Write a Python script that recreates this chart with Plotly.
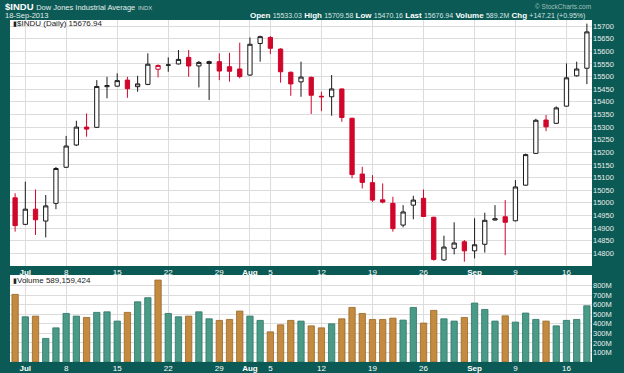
import plotly.graph_objects as go

# ---------------- data ----------------
dates = [
    "2013-06-28", "2013-07-01", "2013-07-02", "2013-07-03", "2013-07-05",
    "2013-07-08", "2013-07-09", "2013-07-10", "2013-07-11", "2013-07-12",
    "2013-07-15", "2013-07-16", "2013-07-17", "2013-07-18", "2013-07-19",
    "2013-07-22", "2013-07-23", "2013-07-24", "2013-07-25", "2013-07-26",
    "2013-07-29", "2013-07-30", "2013-07-31", "2013-08-01", "2013-08-02",
    "2013-08-05", "2013-08-06", "2013-08-07", "2013-08-08", "2013-08-09",
    "2013-08-12", "2013-08-13", "2013-08-14", "2013-08-15", "2013-08-16",
    "2013-08-19", "2013-08-20", "2013-08-21", "2013-08-22", "2013-08-23",
    "2013-08-26", "2013-08-27", "2013-08-28", "2013-08-29", "2013-08-30",
    "2013-09-03", "2013-09-04", "2013-09-05", "2013-09-06", "2013-09-09",
    "2013-09-10", "2013-09-11", "2013-09-12", "2013-09-13", "2013-09-16",
    "2013-09-17", "2013-09-18",
]

opens = [
    15020, 14915, 14975, 14928, 14998, 15141, 15229, 15300, 15299, 15460,
    15462, 15486, 15460, 15469, 15529, 15545, 15550, 15576, 15542, 15552,
    15559, 15539, 15530, 15506, 15631, 15655, 15609, 15517, 15479, 15497,
    15422, 15420, 15451, 15335, 15114, 15080, 15012, 14998, 14912, 14991,
    15018, 14943, 14774, 14820, 14846, 14810, 14836, 14932, 14945, 14929,
    15070, 15196, 15328, 15315, 15383, 15503, 15533.03,
]
highs = [
    15038, 15084, 15053, 15031, 15142, 15265, 15325, 15354, 15486, 15499,
    15513, 15499, 15503, 15592, 15548, 15576, 15605, 15605, 15562, 15563,
    15592, 15594, 15634, 15655, 15662, 15660, 15612, 15520, 15559, 15500,
    15440, 15506, 15453, 15337, 15143, 15110, 15077, 15024, 14991, 15028,
    15053, 14945, 14870, 14923, 14853, 14939, 14961, 14991, 15011, 15090,
    15195, 15333, 15348, 15382, 15552, 15559, 15709.58,
]
lows = [
    14886, 14912, 14873, 14863, 14975, 15138, 15225, 15262, 15297, 15414,
    15460, 15416, 15440, 15466, 15497, 15519, 15548, 15499, 15457, 15407,
    15486, 15480, 15493, 15503, 15559, 15589, 15476, 15424, 15420, 15352,
    15363, 15345, 15321, 15097, 15057, 15004, 14998, 14886, 14903, 14935,
    14944, 14771, 14770, 14796, 14767, 14780, 14803, 14930, 14793, 14927,
    15068, 15194, 15284, 15312, 15381, 15500, 15470.16,
]
closes = [
    14910, 14975, 14933, 14988, 15136, 15225, 15300, 15292, 15461, 15464,
    15484, 15452, 15471, 15549, 15544, 15546, 15568, 15542, 15556, 15559,
    15522, 15521, 15500, 15628, 15658, 15612, 15519, 15471, 15498, 15426,
    15420, 15451, 15338, 15112, 15081, 15011, 15003, 14898, 14964, 15011,
    14946, 14776, 14825, 14841, 14810, 14834, 14931, 14937, 14923, 15063,
    15191, 15327, 15301, 15376, 15495, 15530, 15676.94,
]
prior_close = 14990  # close of the session before the first candle

# volume in millions of shares
volumes_m = [
    709, 474, 481, 247, 358, 509, 481, 467, 520, 526,
    429, 520, 631, 674, 859, 509, 474, 481, 526, 453,
    436, 446, 534, 481, 436, 316, 390, 436, 429, 379,
    358, 400, 453, 572, 509, 446, 446, 460, 439, 572,
    408, 541, 453, 429, 467, 618, 551, 429, 484, 418,
    513, 446, 429, 379, 436, 446, 589.159424,
]

tick_dates = ["2013-07-01", "2013-07-08", "2013-07-15", "2013-07-22", "2013-07-29",
              "2013-08-01", "2013-08-05", "2013-08-12", "2013-08-19", "2013-08-26",
              "2013-09-03", "2013-09-09", "2013-09-16"]
tick_labels = ["<b>Jul</b>", "8", "15", "22", "29", "<b>Aug</b>", "5", "12", "19", "26",
               "<b>Sep</b>", "9", "16"]

price_ticks = list(range(14800, 15701, 50))
vol_ticks_m = [100, 200, 300, 400, 500, 600, 700, 800]
vol_tick_labels = ["100M", "200M", "300M", "400M", "500M", "600M", "700M", "800M"]

# ---------------- styling ----------------
W, H = 624, 373
BG = "#0c5a55"
RED = "#d0062b"
BLACK = "#1a1a1a"
UP_VOL = "#4a9a88"
UP_VOL_EDGE = "#2e7566"
DN_VOL = "#c38a40"
DN_VOL_EDGE = "#96672a"
GRID = "#dcdcdc"
AXIS_TXT = "#e6eeec"


def px(x):
    return x / W


def py(y):
    return 1 - y / H


idx = list(range(len(dates)))
prev = [prior_close] + closes[:-1]
is_up = [c >= p for c, p in zip(closes, prev)]

fig = go.Figure()


def candle_trace(mask, color):
    sel = [i for i in idx if mask[i]]
    return go.Candlestick(
        x=sel,
        open=[opens[i] for i in sel],
        high=[highs[i] for i in sel],
        low=[lows[i] for i in sel],
        close=[closes[i] for i in sel],
        increasing=dict(line=dict(color=color, width=1), fillcolor="#ffffff"),
        decreasing=dict(line=dict(color=color, width=1), fillcolor=color),
        whiskerwidth=0,
        xaxis="x", yaxis="y",
        showlegend=False,
        hoverinfo="skip",
    )


fig.add_trace(candle_trace(is_up, BLACK))
fig.add_trace(candle_trace([not u for u in is_up], RED))

fig.add_trace(go.Bar(
    x=idx,
    y=[v * 1e6 for v in volumes_m],
    marker=dict(
        color=[UP_VOL if u else DN_VOL for u in is_up],
        line=dict(color=[UP_VOL_EDGE if u else DN_VOL_EDGE for u in is_up], width=0.8),
    ),
    width=0.62,
    xaxis="x2", yaxis="y2",
    showlegend=False,
    hoverinfo="skip",
))

tick_pos = [dates.index(d) for d in tick_dates]
x_common = dict(
    range=[-0.5, len(dates) - 0.5],
    domain=[px(10), px(592)],
    tickmode="array",
    tickvals=tick_pos,
    ticktext=tick_labels,
    tickfont=dict(family="Liberation Sans", size=8, color="#ffffff"),
    showgrid=True, gridcolor=GRID, gridwidth=1,
    zeroline=False, showline=False, ticks="",
    fixedrange=True,
)

fig.update_layout(
    width=W, height=H,
    margin=dict(l=0, r=0, t=0, b=0),
    paper_bgcolor=BG,
    plot_bgcolor="#ffffff",
    boxgap=0.4,
    showlegend=False,
    xaxis=dict(**x_common, anchor="y", rangeslider=dict(visible=False)),
    xaxis2=dict(**x_common, anchor="y2", matches="x"),
    yaxis=dict(
        domain=[py(266), py(20)],
        range=[14750, 15724],
        side="right",
        tickmode="array",
        tickvals=price_ticks,
        ticktext=[str(t) for t in price_ticks],
        tickfont=dict(family="Liberation Sans", size=7.5, color=AXIS_TXT),
        showgrid=True, gridcolor=GRID, gridwidth=1,
        zeroline=False, showline=False, ticks="",
        anchor="x", fixedrange=True,
    ),
    yaxis2=dict(
        domain=[py(362), py(275)],
        range=[0, 912e6],
        side="right",
        tickmode="array",
        tickvals=[v * 1e6 for v in vol_ticks_m],
        ticktext=vol_tick_labels,
        tickfont=dict(family="Liberation Sans", size=7.5, color=AXIS_TXT),
        showgrid=True, gridcolor=GRID, gridwidth=1,
        zeroline=False, showline=False, ticks="",
        anchor="x2", fixedrange=True,
    ),
)

# ---------------- header & legend texts ----------------
ann = []
ann.append(dict(
    x=px(3), y=py(6.5), xref="paper", yref="paper", xanchor="left", yanchor="middle",
    showarrow=False,
    text="<b>$INDU</b> <span style='font-size:7.5px;color:#e4eeec'>Dow Jones Industrial Average</span>"
         " <span style='font-size:6px;color:#c9d9d6'>INDX</span>",
    font=dict(family="Liberation Sans", size=9.5, color="#ffffff"),
))
ann.append(dict(
    x=px(3), y=py(15), xref="paper", yref="paper", xanchor="left", yanchor="middle",
    showarrow=False, text="18-Sep-2013",
    font=dict(family="Liberation Sans", size=7.5, color="#e4eeec"),
))
num = "<span style='font-size:7px;color:#d6e4e1'>{}</span>"
ann.append(dict(
    x=px(587), y=py(15), xref="paper", yref="paper", xanchor="right", yanchor="middle",
    showarrow=False,
    text=("<b>Open</b> " + num.format("15533.03") + " <b>High</b> " + num.format("15709.58")
          + " <b>Low</b> " + num.format("15470.16") + " <b>Last</b> " + num.format("15676.94")
          + " <b>Volume</b> " + num.format("589.2M") + " <b>Chg</b> " + num.format("+147.21 (+0.95%)")),
    font=dict(family="Liberation Sans", size=8, color="#ffffff"),
))
ann.append(dict(
    x=px(593), y=py(6), xref="paper", yref="paper", xanchor="right", yanchor="middle",
    showarrow=False, text="© StockCharts.com",
    font=dict(family="Liberation Sans", size=6.5, color="#9fc0ba"),
))
ann.append(dict(
    x=px(11), y=py(23.5), xref="paper", yref="paper", xanchor="left", yanchor="middle",
    showarrow=False,
    text="<span style='font-size:7px'>▮</span>$INDU (Daily) 15676.94",
    font=dict(family="Liberation Sans", size=8, color="#222222"),
))
ann.append(dict(
    x=px(11), y=py(280.5), xref="paper", yref="paper", xanchor="left", yanchor="middle",
    showarrow=False,
    text="<span style='font-size:7px'>▮</span>Volume 589,159,424",
    font=dict(family="Liberation Sans", size=8, color="#222222"),
))
fig.update_layout(annotations=ann)

fig.write_html(
    "out.html",
    config={"displayModeBar": False, "staticPlot": True},
    post_script="document.body.style.margin='0';document.body.style.overflow='hidden';",
)
